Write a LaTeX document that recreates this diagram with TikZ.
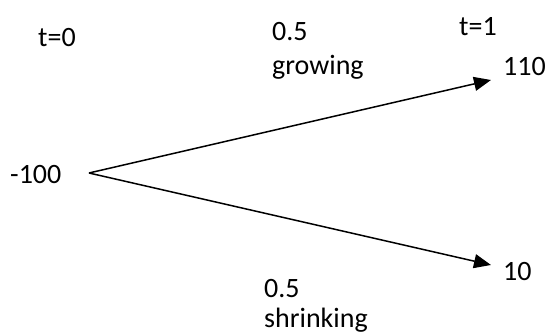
\documentclass[tikz,border=0pt]{standalone}
\usepackage{fontspec}
\setmainfont{Carlito}
\usetikzlibrary{arrows.meta}
\tikzset{
  lbl/.style={anchor=base west, inner sep=0pt, font=\fontsize{28}{33}\selectfont},
  branch/.style={line width=1.5pt, -{Triangle[length=17pt,width=14pt]}}
}
\begin{document}
\begin{tikzpicture}[x=1pt,y=-1pt]
\useasboundingbox (0,0) rectangle (547,334);
\node[lbl] (t0) at (38,47) {t=0};
\node[lbl] (pu) at (272,41) {0.5};
\node[lbl] (gr) at (272,75) {growing};
\node[lbl] (t1) at (459,36) {t=1};
\node[lbl] (hi) at (503,76) {110};
\node[lbl] (root) at (10,184) {-100};
\node[lbl] (lo) at (503,281) {10};
\node[lbl] (pd) at (264,298) {0.5};
\node[lbl] (sh) at (264,327) {shrinking};
\coordinate (o) at (89,173);
\coordinate (tu) at (491,80);
\coordinate (td) at (491,265);
\draw[branch] (o) -- (tu);
\draw[branch] (o) -- (td);
\end{tikzpicture}
\end{document}
